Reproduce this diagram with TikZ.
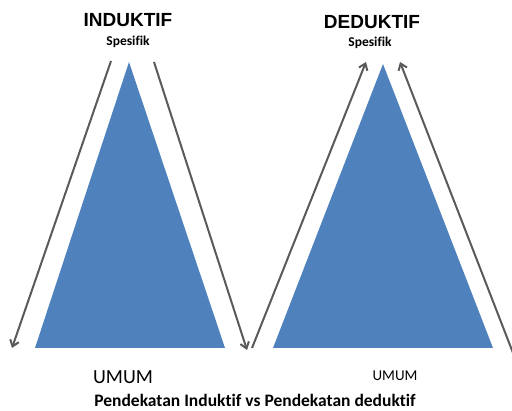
\documentclass[tikz,border=0pt]{standalone}
\usepackage{fontspec}
\setmainfont[RawFeature={-liga}]{Carlito}
\newfontfamily\headfont{Liberation Sans}
\usetikzlibrary{arrows.meta}
\definecolor{pyramid}{HTML}{4F81BD}
\definecolor{flow}{HTML}{5A5A5A}
\tikzset{
  pyr/.style={fill=pyramid, draw=none},
  flowarrow/.style={draw=flow, line width=2pt, -{Straight Barb[length=6pt,width=9pt]}},
  headlabel/.style={font=\headfont\bfseries\fontsize{19}{22}\selectfont, inner sep=0pt},
  sublabel/.style={font=\bfseries\fontsize{13.5}{16}\selectfont, inner sep=0pt}
}
\begin{document}
\begin{tikzpicture}[x=1pt, y=-1pt]
    \useasboundingbox (0,0) rectangle (512,411);

    % Draw the two pyramids
    \fill[pyr] (35,348) -- (129,62) -- (225,348) -- cycle;
    \fill[pyr] (273,348) -- (383,64) -- (493,348) -- cycle;

    % Headings
    \node[headlabel] (ind) at (128,20) {INDUKTIF};
    \node[sublabel] (indsp) at (128,42) {Spesifik};
    \node[headlabel] (ded) at (372,22) {DEDUKTIF};
    \node[sublabel] (dedsp) at (370,43) {Spesifik};

    % Arrow ends
    \coordinate (a1) at (111,61);
    \coordinate (a2) at (12,348);
    \coordinate (b1) at (154,62);
    \coordinate (b2) at (247,350);
    \coordinate (c1) at (252,348);
    \coordinate (c2) at (366,62);
    \coordinate (d1) at (515,358);
    \coordinate (d2) at (400,62);

    % Inductive: from specific down to general
    \draw[flowarrow] (a1) -- (a2);
    \draw[flowarrow] (b1) -- (b2);

    % Deductive: from general up to specific
    \draw[flowarrow] (c1) -- (c2);
    \draw[flowarrow] (d1) -- (d2);

    % Bottom labels
    \node[font=\fontsize{20}{24}\selectfont, inner sep=0pt] (umum1) at (123,377) {UMUM};
    \node[font=\fontsize{15}{18}\selectfont, inner sep=0pt] (umum2) at (395,376) {UMUM};
    \node[font=\bfseries\fontsize{17.5}{20}\selectfont, inner sep=0pt] (cap) at (255,400) {Pendekatan Induktif vs Pendekatan deduktif};
\end{tikzpicture}
\end{document}
